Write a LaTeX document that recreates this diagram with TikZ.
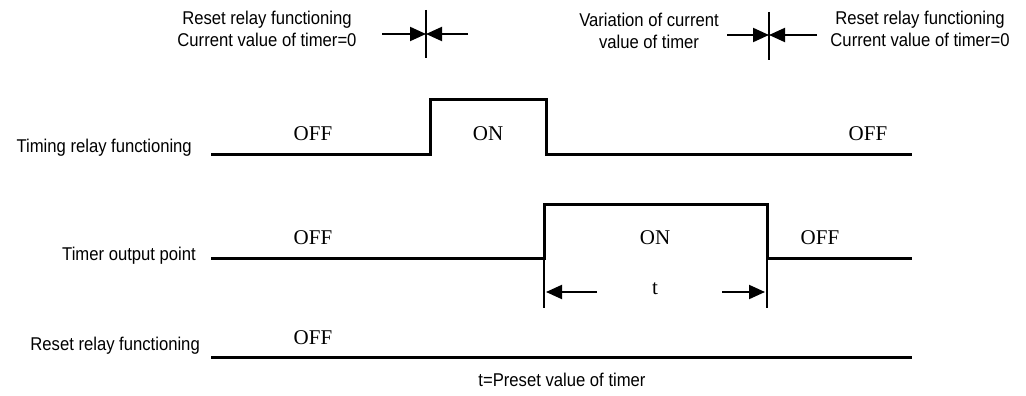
\documentclass[tikz,border=0pt]{standalone}
\usepackage{fontspec}
\setmainfont{Liberation Serif}
\newfontfamily\lblfont[FakeStretch=0.9]{Liberation Sans}
\usetikzlibrary{arrows.meta,positioning}

\begin{document}
\begin{tikzpicture}[
  x=1pt, y=-1pt,
  lbl/.style={font=\lblfont\fontsize{18.5}{22}\selectfont, inner sep=0pt, align=center},
  state/.style={font=\fontsize{21}{24}\selectfont, inner sep=0pt},
  wave/.style={line width=3pt, line join=miter},
  tick/.style={line width=2pt},
  >={Triangle[length=16pt, width=14pt]}
]
\useasboundingbox (0,0) rectangle (1026,396);

% signal names
\node[lbl, anchor=east] (trf) at (192,148) {Timing relay functioning};
\node[lbl, anchor=east] (top) at (196,256) {Timer output point};
\node[lbl, anchor=east] (rrf) at (200,346) {Reset relay functioning};

% waveforms
\coordinate (w1) at (211,154);
\coordinate (w2) at (211,258);
\coordinate (w3) at (211,357);
\draw[wave] (w1) -- (430,154) -- (430,100) -- (546,100) -- (546,154) -- (912,154);
\draw[wave] (w2) -- (544,258) -- (544,204) -- (767,204) -- (767,258) -- (912,258);
\draw[wave] (w3) -- (912,357);

% states
\node[state] (s1a) at (313,134) {OFF};
\node[state] (s1b) at (488,134) {ON};
\node[state] (s1c) at (868,134) {OFF};
\node[state] (s2a) at (313,238) {OFF};
\node[state] (s2b) at (655,238) {ON};
\node[state] (s2c) at (820,238) {OFF};
\node[state] (s3a) at (313,338) {OFF};

% preset time
\coordinate (ta) at (544,258);
\coordinate (tb) at (767,258);
\draw[tick] (ta) -- ++(0,50);
\draw[tick] (tb) -- ++(0,50);
\node[state] (tt) at (655,289) {t};
\coordinate (tl) at (597,292);
\coordinate (tr) at (722,292);
\draw[tick, ->] (tl) -- (546,292);
\draw[tick, ->] (tr) -- (765,292);
\node[lbl] (tnote) at (562,380) {t=Preset value of timer};

% top markers
\node[lbl] (m1) at (267,29) {Reset relay functioning\\Current value of timer=0};
\node[lbl] (m2) at (649,31) {Variation of current\\value of timer};
\node[lbl] (m3) at (920,29) {Reset relay functioning\\Current value of timer=0};

\coordinate (k1) at (426,34);
\draw[tick] (426,10) -- (426,58);
\draw[tick, ->] (382,34) -- (k1);
\draw[tick, ->] (468,34) -- (k1);

\coordinate (k2) at (769,35);
\draw[tick] (769,12) -- (769,60);
\draw[tick, ->] (727,35) -- (k2);
\draw[tick, ->] (817,35) -- (k2);
\end{tikzpicture}
\end{document}
